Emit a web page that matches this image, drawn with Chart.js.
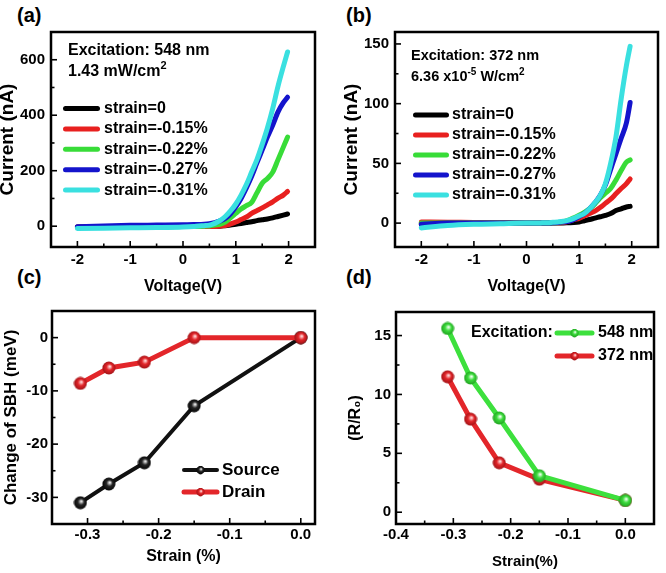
<!DOCTYPE html>
<html>
<head>
<meta charset="utf-8">
<script src="https://cdn.jsdelivr.net/npm/chart.js@4.4.0/dist/chart.umd.min.js"></script>
<style>
  body { margin: 0; background: #fff; width: 666px; height: 573px; position: relative; overflow: hidden;
         font-family: "Liberation Sans", Arial, sans-serif; color: #000; }
  canvas { position: absolute; }
  .lbl { position: absolute; font-weight: bold; font-size: 20px; line-height: 20px; }
  .note { position: absolute; font-size: 16px; line-height: 16px; white-space: nowrap; font-weight: bold; }
  .note sup { font-size: 11px; vertical-align: 7px; line-height: 0; }
  .small { font-size: 14.5px; line-height: 15px; }
  .small sup { font-size: 10px; vertical-align: 6px; }
</style>
</head>
<body>
<div class="lbl" style="left:17px;top:5px">(a)</div>
<div class="lbl" style="left:346px;top:5px">(b)</div>
<div class="lbl" style="left:17px;top:267px">(c)</div>
<div class="lbl" style="left:346px;top:267px">(d)</div>

<canvas id="chA" width="333" height="298" style="left:0;top:0"></canvas>
<canvas id="chB" width="333" height="298" style="left:333px;top:0"></canvas>
<canvas id="chC" width="333" height="275" style="left:0;top:298px"></canvas>
<canvas id="chD" width="333" height="275" style="left:333px;top:298px"></canvas>

<div class="note" style="left:68px;top:42px">Excitation: 548 nm</div>
<div class="note" style="left:68px;top:63px">1.43 mW/cm<sup>2</sup></div>
<div class="note small" style="left:411px;top:48px">Excitation: 372 nm</div>
<div class="note small" style="left:411px;top:69px">6.36 x10<sup>-5</sup> W/cm<sup>2</sup></div>

<script>
// (a) I-V under 548 nm
const voltA = [-2, -1.5, -1, -0.5, 0, 0.2, 0.3, 0.4, 0.5, 0.6, 0.7, 0.8, 0.9, 1.0, 1.1, 1.2, 1.3, 1.4, 1.5, 1.6, 1.7, 1.8, 1.9, 1.98];
const aS0  = [-3, -3, -2, -2, -1, -1, -1, -1, -1, -1, 0, 2, 4, 7, 10, 13, 16, 20, 23, 26, 30, 35, 40, 44];
const aS15 = [-3, -3, -2, -2, -1, -1, -1, -1, -1, -1, 0, 2, 8, 15, 24, 33, 46, 56, 66, 77, 88, 101, 112, 125];
const aS22 = [-5, -4, -3, -2, -1, -1, -1, 0, 1, 4, 7, 15, 30, 46, 62, 74, 86, 120, 155, 172, 195, 240, 285, 321];
const aS27 = [-2, 1, 3, 4, 5, 6, 6, 7, 9, 13, 19, 28, 45, 70, 100, 138, 180, 228, 275, 322, 365, 412, 445, 465];
const aS31 = [-8, -7, -6, -5, -3, -1, 1, 2, 4, 10, 20, 35, 55, 80, 112, 150, 195, 240, 295, 355, 425, 505, 575, 628];

// (b) I-V under 372 nm
const voltB = [-2, -1.5, -1, -0.5, 0, 0.2, 0.3, 0.4, 0.5, 0.6, 0.7, 0.8, 0.9, 1.0, 1.1, 1.2, 1.3, 1.4, 1.5, 1.6, 1.7, 1.8, 1.9, 1.97];
const bS0  = [-1, -0.5, 0, 0, 0, 0, 0, 0, 0, 0, 0.1, 0.3, 0.5, 1, 2, 3, 4.2, 5.3, 6.5, 8, 10.5, 12, 13.5, 14];
const bS15 = [1, 0.8, 0.5, 0.3, 0.2, 0.2, 0.2, 0.2, 0.3, 0.3, 0.5, 1.5, 3, 4, 6, 8, 10, 13, 16.5, 20, 24.5, 29, 33, 37];
const bS22 = [0, 0, 0, 0, 0, 0, 0, 0, 0.2, 0.5, 1, 2.5, 4.5, 6.5, 9, 12, 16, 21, 25, 29, 36, 44, 51, 53];
const bS27 = [-1, 0, 0, 0, 0, 0, 0, 0, 0.3, 0.5, 1, 1.5, 3, 5.5, 8, 12, 17, 23, 32, 45, 58, 71, 84, 101];
const bS31 = [-4, -2, -1, -0.5, 0, 0, 0.2, 0.4, 0.7, 1, 1.5, 2.5, 4, 6, 8, 12, 17, 23, 33, 50, 72, 104, 132, 148];

const strainNames = ['strain=0', 'strain=-0.15%', 'strain=-0.22%', 'strain=-0.27%', 'strain=-0.31%'];
const ivColors = ['#000000', '#e8201f', '#38dc38', '#1414cc', '#3ae0e0'];

// (c) change of SBH
const strainC = [-0.31, -0.27, -0.22, -0.15, 0];
const sourceSBH = [-31, -27.5, -23.5, -12.8, 0];
const drainSBH = [-8.6, -5.7, -4.6, 0, 0];

// (d) responsivity ratio
const strainD = [-0.31, -0.27, -0.22, -0.15, 0];
const ratio548 = [15.6, 11.4, 8.0, 3.1, 1.0];
const ratio372 = [11.5, 7.9, 4.2, 2.8, 1.0];

// tick values
const voltTicks = [-2, -1, 0, 1, 2];
const curTicksA = [0, 200, 400, 600];
const curTicksB = [0, 50, 100, 150];
const strainTicksC = [-0.3, -0.2, -0.1, 0];
const sbhTicks = [-30, -20, -10, 0];
const strainTicksD = [-0.4, -0.3, -0.2, -0.1, 0];
const ratioTicks = [0, 5, 10, 15];

Chart.defaults.font.family = "'Liberation Sans', Arial, sans-serif";
Chart.defaults.color = '#000';

const pts = (xs, ys) => xs.map((x, i) => ({ x: x, y: ys[i] }));

function makeBall(base, light, dark) {
  const c = document.createElement('canvas');
  c.width = c.height = 14;
  const g = c.getContext('2d');
  const grd = g.createRadialGradient(8, 5.5, 0.5, 7, 7, 7);
  grd.addColorStop(0, light);
  grd.addColorStop(0.4, base);
  grd.addColorStop(1, dark);
  g.fillStyle = grd;
  g.beginPath();
  g.arc(7, 7, 6.5, 0, Math.PI * 2);
  g.fill();
  return c;
}

// frame + inward ticks like the original plots
const framePlugin = {
  id: 'frame',
  afterDraw(chart, args, opts) {
    const { ctx, chartArea: a } = chart;
    const x = chart.scales.x, y = chart.scales.y;
    ctx.save();
    ctx.strokeStyle = '#000';
    ctx.lineWidth = 1.6;
    const tick = (v, s, len) => {
      const p = s.getPixelForValue(v);
      ctx.beginPath();
      if (s.isHorizontal()) { ctx.moveTo(p, a.bottom); ctx.lineTo(p, a.bottom - len); }
      else { ctx.moveTo(a.left, p); ctx.lineTo(a.left + len, p); }
      ctx.stroke();
    };
    [[x, opts.xMinor], [y, opts.yMinor]].forEach(([s, m]) => {
      s.ticks.forEach(t => tick(t.value, s, 6));
      const start = Math.ceil(s.min / m - 1e-9) * m;
      for (let v = start; v <= s.max + 1e-9; v += m) {
        if (!s.ticks.some(t => Math.abs(t.value - v) < m / 10)) tick(v, s, 3.5);
      }
    });
    ctx.lineWidth = 2.5;
    ctx.strokeRect(a.left, a.top, a.right - a.left, a.bottom - a.top);
    ctx.restore();
  }
};

// legend drawn inside the plot
const keyPlugin = {
  id: 'key',
  afterDraw(chart, args, o) {
    if (o.x0 === undefined) return;
    const ctx = chart.ctx;
    ctx.save();
    ctx.font = o.font;
    ctx.textBaseline = 'middle';
    ctx.fillStyle = '#000';
    if (o.title) ctx.fillText(o.title, o.titleX, o.y0);
    o.order.forEach((di, i) => {
      const ds = chart.data.datasets[di];
      const yy = o.y0 + i * o.dy;
      ctx.strokeStyle = ds.borderColor;
      ctx.lineWidth = ds.borderWidth;
      ctx.lineCap = 'round';
      ctx.beginPath();
      ctx.moveTo(o.x0, yy);
      ctx.lineTo(o.x1, yy);
      ctx.stroke();
      if (ds.pointStyle instanceof HTMLCanvasElement) {
        const m = o.markerSize;
        ctx.drawImage(ds.pointStyle, (o.x0 + o.x1) / 2 - m / 2, yy - m / 2, m, m);
      }
      ctx.fillStyle = '#000';
      ctx.fillText(ds.label, o.tx, yy);
    });
    ctx.restore();
  }
};

Chart.register(framePlugin, keyPlugin);

function axes(c) {
  return {
    x: {
      type: 'linear', min: c.xmin, max: c.xmax,
      grid: { display: false, drawTicks: false }, border: { display: false },
      afterBuildTicks: s => { s.ticks = c.xticks.map(v => ({ value: v })); },
      ticks: { padding: c.xpad, maxRotation: 0, autoSkip: false,
               font: { size: 15, weight: 'bold' }, callback: c.xfmt },
      title: { display: true, text: c.xtitle, font: { size: c.xts, weight: 'bold', lineHeight: 1 },
               padding: { top: 0, bottom: c.xtp } },
      afterFit: s => { s.height = c.xh; }
    },
    y: {
      type: 'linear', min: c.ymin, max: c.ymax,
      grid: { display: false, drawTicks: false }, border: { display: false },
      afterBuildTicks: s => { s.ticks = c.yticks.map(v => ({ value: v })); },
      ticks: { padding: c.ypad, autoSkip: false, font: { size: 15, weight: 'bold' } },
      title: { display: true, text: c.ytitle, font: { size: c.yts, weight: 'bold', lineHeight: 1 },
               padding: { top: c.ytp, bottom: 0 } },
      afterFit: s => { s.width = c.yw; }
    }
  };
}

function ivSets(xs, series) {
  return series.map((ys, i) => ({
    label: strainNames[i], data: pts(xs, ys),
    borderColor: ivColors[i], backgroundColor: ivColors[i],
    borderWidth: 5, pointRadius: 0, tension: 0.3, cubicInterpolationMode: 'monotone',
    borderCapStyle: 'round', borderJoinStyle: 'round', order: 5 - i
  }));
}

const intFmt = v => String(v);
const decFmt = v => v.toFixed(1);

new Chart(document.getElementById('chA'), {
  type: 'line',
  data: { datasets: ivSets(voltA, [aS0, aS15, aS22, aS27, aS31]) },
  options: {
    responsive: false, animation: false,
    layout: { padding: { left: 0, top: 32, right: 18, bottom: 0 } },
    scales: axes({ xmin: -2.5, xmax: 2.5, xticks: voltTicks, xfmt: intFmt, xpad: 4, xtitle: 'Voltage(V)', xts: 16, xtp: 3, xh: 51,
                   ymin: -75, ymax: 700, yticks: curTicksA, ypad: 6, ytitle: 'Current (nA)', yts: 19, ytp: -2, yw: 51 }),
    plugins: {
      legend: { display: false }, tooltip: { enabled: false },
      frame: { xMinor: 0.5, yMinor: 100 },
      key: { x0: 65.5, x1: 97.5, tx: 104, y0: 108.5, dy: 20.4, font: "bold 16px 'Liberation Sans', Arial", order: [0, 1, 2, 3, 4] }
    }
  }
});

new Chart(document.getElementById('chB'), {
  type: 'line',
  data: { datasets: ivSets(voltB, [bS0, bS15, bS22, bS27, bS31]) },
  options: {
    responsive: false, animation: false,
    layout: { padding: { left: 0, top: 32, right: 8, bottom: 0 } },
    scales: axes({ xmin: -2.5, xmax: 2.5, xticks: voltTicks, xfmt: intFmt, xpad: 4, xtitle: 'Voltage(V)', xts: 16, xtp: 3, xh: 51,
                   ymin: -20, ymax: 160, yticks: curTicksB, ypad: 6, ytitle: 'Current (nA)', yts: 19, ytp: 9, yw: 62 }),
    plugins: {
      legend: { display: false }, tooltip: { enabled: false },
      frame: { xMinor: 0.5, yMinor: 25 },
      key: { x0: 82.5, x1: 113.5, tx: 119, y0: 115, dy: 20, font: "bold 16px 'Liberation Sans', Arial", order: [0, 1, 2, 3, 4] }
    }
  }
});

const ballBlack = makeBall('#262626', '#e6e6e6', '#000000');
const ballRed = makeBall('#e3262a', '#ffd6d6', '#9a1014');
const ballGreen = makeBall('#3ddc3d', '#eaffea', '#1e9c1e');

new Chart(document.getElementById('chC'), {
  type: 'line',
  data: {
    datasets: [
      { label: 'Source', data: pts(strainC, sourceSBH), borderColor: '#111111', borderWidth: 4,
        pointStyle: ballBlack, pointRadius: 7, tension: 0, order: 2 },
      { label: 'Drain', data: pts(strainC, drainSBH), borderColor: '#e3262a', borderWidth: 5,
        pointStyle: ballRed, pointRadius: 7, tension: 0, order: 1 }
    ]
  },
  options: {
    responsive: false, animation: false,
    layout: { padding: { left: 0, top: 10, right: 18, bottom: 0 } },
    scales: axes({ xmin: -0.35, xmax: 0.02, xticks: strainTicksC, xfmt: decFmt, xpad: 2,
                   xtitle: 'Strain (%)', xts: 16, xtp: 8, xh: 49,
                   ymin: -35, ymax: 5, yticks: sbhTicks, ypad: 4, ytitle: 'Change of SBH (meV)', yts: 17, ytp: 3, yw: 52 }),
    plugins: {
      legend: { display: false }, tooltip: { enabled: false },
      frame: { xMinor: 0.05, yMinor: 5 },
      key: { x0: 184, x1: 217, tx: 222, y0: 172, dy: 22, markerSize: 9,
             font: "bold 17px 'Liberation Sans', Arial", order: [0, 1] }
    }
  }
});

new Chart(document.getElementById('chD'), {
  type: 'line',
  data: {
    datasets: [
      { label: '548 nm', data: pts(strainD, ratio548), borderColor: '#3de03d', borderWidth: 5,
        pointStyle: ballGreen, pointRadius: 7, tension: 0, order: 1 },
      { label: '372 nm', data: pts(strainD, ratio372), borderColor: '#e3262a', borderWidth: 5,
        pointStyle: ballRed, pointRadius: 7, tension: 0, order: 2 }
    ]
  },
  options: {
    responsive: false, animation: false,
    layout: { padding: { left: 0, top: 10, right: 8, bottom: 0 } },
    scales: axes({ xmin: -0.4, xmax: 0.05, xticks: strainTicksD, xfmt: decFmt, xpad: 2,
                   xtitle: 'Strain(%)', xts: 15, xtp: 4, xh: 49,
                   ymin: -1, ymax: 17, yticks: ratioTicks, ypad: 5, ytitle: '(R/R\u2080)', yts: 16, ytp: 14.5, yw: 63 }),
    plugins: {
      legend: { display: false }, tooltip: { enabled: false },
      frame: { xMinor: 0.05, yMinor: 2.5 },
      key: { x0: 224, x1: 259, tx: 265, y0: 35, dy: 23, markerSize: 9, title: 'Excitation:', titleX: 138,
             font: "bold 16px 'Liberation Sans', Arial", order: [0, 1] }
    }
  }
});
</script>
</body>
</html>
